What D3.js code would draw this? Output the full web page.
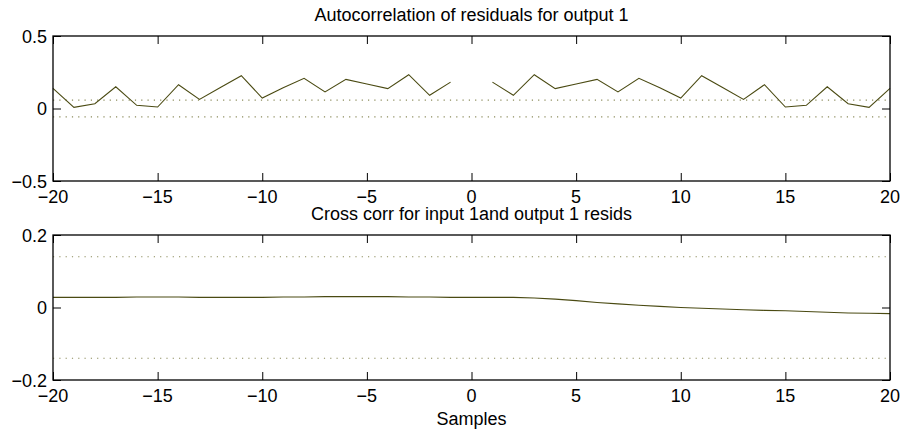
<!DOCTYPE html>
<html lang="en">
<head>
  <meta charset="UTF-8">
  <title>Residual analysis</title>
  <script src="https://d3js.org/d3.v7.min.js"></script>
  <style>
    body {
      margin: 0;
      padding: 0;
      background: #fff;
      font-family: "Liberation Sans", Arial, sans-serif;
    }
    svg text {
      font-size: 18px;
      fill: #000;
    }
  </style>
</head>
<body>
  <div id="chart"></div>

  <script>
    // lags shared by both panels
    const lags = d3.range(-20, 21);

    // autocorrelation of residuals (lag 0 is not drawn)
    const autoCorr = [
      0.139, 0.008, 0.033, 0.150, 0.022, 0.010, 0.164, 0.063, 0.145, 0.226,
      0.072, 0.143, 0.208, 0.114, 0.201, 0.169, 0.137, 0.233, 0.091, 0.182,
      null,
      0.182, 0.091, 0.233, 0.137, 0.169, 0.201, 0.114, 0.208, 0.143, 0.072,
      0.226, 0.145, 0.063, 0.164, 0.010, 0.022, 0.150, 0.033, 0.008, 0.139
    ];
    const autoConf = 0.058;

    // cross correlation input 1 / output 1 residuals
    const crossCorr = [
      0.028, 0.028, 0.028, 0.028, 0.029, 0.029, 0.029, 0.028, 0.028, 0.028,
      0.028, 0.029, 0.029, 0.030, 0.030, 0.030, 0.030, 0.029, 0.029, 0.028,
      0.028,
      0.028, 0.028, 0.026, 0.023, 0.019, 0.014, 0.010, 0.006, 0.003, 0.000,
      -0.002, -0.004, -0.006, -0.008, -0.009, -0.011, -0.013, -0.015, -0.016, -0.017
    ];
    const crossConf = 0.14;

    const xTicks = [-20, -15, -10, -5, 0, 5, 10, 15, 20];
    const autoTicks = [-0.5, 0, 0.5];
    const crossTicks = [-0.2, 0, 0.2];

    const W = 902, H = 431;
    const left = 53, right = 890;
    const lineColor = "#4a4a12";
    const dotColor = "#8a8a5a";

    const svg = d3.select("#chart")
      .append("svg")
      .attr("width", W)
      .attr("height", H);

    const x = d3.scaleLinear().domain([-20, 20]).range([left, right]);
    const fmt = d => (d < 0 ? "\u2212" : "") + Math.abs(d);

    function panel(cfg) {
      const y = d3.scaleLinear().domain(cfg.domain).range([cfg.bottom, cfg.top]);
      const g = svg.append("g");

      // confidence band (dotted)
      [cfg.conf, -cfg.conf].forEach(c => {
        g.append("line")
          .attr("x1", x(-20)).attr("x2", x(20))
          .attr("y1", y(c)).attr("y2", y(c))
          .attr("stroke", dotColor)
          .attr("stroke-width", 1.2)
          .attr("stroke-dasharray", "1.2,5.1");
      });

      // series
      const line = d3.line()
        .defined(d => d[1] != null)
        .x(d => x(d[0]))
        .y(d => y(d[1]));
      g.append("path")
        .datum(lags.map((l, i) => [l, cfg.values[i]]))
        .attr("fill", "none")
        .attr("stroke", lineColor)
        .attr("stroke-width", 1.1)
        .attr("d", line);

      // axes with inward ticks, box style
      const tl = 8;
      g.append("g")
        .attr("transform", `translate(0,${cfg.bottom})`)
        .call(d3.axisTop(x).tickValues(xTicks).tickSize(tl).tickFormat(""))
        .call(a => a.select(".domain").remove());
      g.append("g")
        .attr("transform", `translate(0,${cfg.top})`)
        .call(d3.axisBottom(x).tickValues(xTicks).tickSize(tl).tickFormat(""))
        .call(a => a.select(".domain").remove());
      g.append("g")
        .attr("transform", `translate(${left},0)`)
        .call(d3.axisRight(y).tickValues(cfg.ticks).tickSize(tl).tickFormat(""))
        .call(a => a.select(".domain").remove());
      g.append("g")
        .attr("transform", `translate(${right},0)`)
        .call(d3.axisLeft(y).tickValues(cfg.ticks).tickSize(tl).tickFormat(""))
        .call(a => a.select(".domain").remove());
      g.selectAll(".tick line").attr("stroke", "#000").attr("stroke-width", 1);

      g.append("rect")
        .attr("x", left).attr("y", cfg.top)
        .attr("width", right - left).attr("height", cfg.bottom - cfg.top)
        .attr("fill", "none")
        .attr("stroke", "#000")
        .attr("stroke-width", 1.3);

      // tick labels
      g.selectAll(".xl")
        .data(xTicks)
        .join("text")
        .attr("x", d => x(d))
        .attr("y", cfg.bottom + 22)
        .attr("text-anchor", "middle")
        .text(fmt);
      g.selectAll(".yl")
        .data(cfg.ticks)
        .join("text")
        .attr("x", left - 6)
        .attr("y", d => y(d) + 6.5)
        .attr("text-anchor", "end")
        .text(fmt);

      // title
      g.append("text")
        .attr("x", (left + right) / 2)
        .attr("y", cfg.top - 15)
        .attr("text-anchor", "middle")
        .text(cfg.title);
    }

    panel({
      top: 36, bottom: 181,
      domain: [-0.5, 0.5],
      ticks: autoTicks,
      values: autoCorr,
      conf: autoConf,
      title: "Autocorrelation of residuals for output 1"
    });

    panel({
      top: 235, bottom: 380,
      domain: [-0.2, 0.2],
      ticks: crossTicks,
      values: crossCorr,
      conf: crossConf,
      title: "Cross corr for input 1and output 1 resids"
    });

    svg.append("text")
      .attr("x", (left + right) / 2)
      .attr("y", 425)
      .attr("text-anchor", "middle")
      .text("Samples");
  </script>
</body>
</html>
